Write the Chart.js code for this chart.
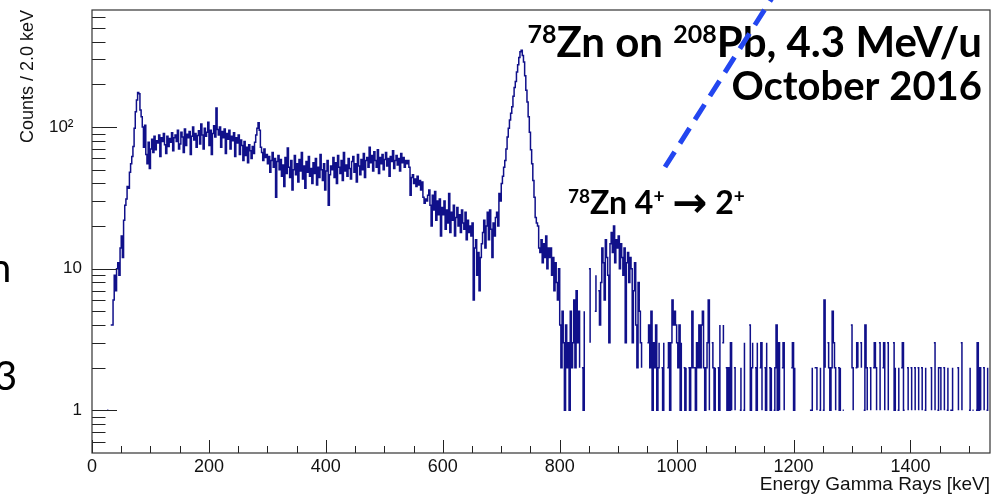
<!DOCTYPE html>
<html>
<head>
<meta charset="utf-8">
<title>78Zn on 208Pb - gamma spectrum</title>
<script src="https://cdn.jsdelivr.net/npm/chart.js@4.4.1/dist/chart.umd.min.js"></script>
<style>
    html, body { margin: 0; padding: 0; background: #fff; }
    #wrap { width: 1002px; height: 494px; }
</style>
</head>
<body>
<div id="wrap"><canvas id="spectrum" width="1002" height="494"></canvas></div>
<script>
// histogram binning (keV) and axis range
const binWidth = 2;
const energyMin = 0;
const energyMax = 1536;
const countsMin = 0.5;
const countsMax = 670;

// counts per 2 keV bin
const countsThreshold = [0, 0, 0, 0, 0, 0, 0, 0, 0, 0, 0, 0, 0, 1, 1, 0];
const countsRise = [4, 4, 6, 9, 7, 10, 11, 9, 14, 17, 12, 22, 28, 31, 38, 37, 48, 55, 62, 73,
    98, 128, 155, 175, 172, 132, 118, 100, 72, 103];
const countsLowContinuum = [64, 55, 78, 51, 70,
    82, 66, 86, 69, 80, 77, 88, 62, 84, 79, 90, 75, 65, 86, 73, 83, 78, 91, 68, 84,
    88, 79, 95, 70, 76, 92, 85, 66, 97, 74, 89, 84, 93, 64, 86, 100, 81, 90, 72, 87,
    94, 76, 105, 88, 70, 98, 86, 92, 108, 74, 95, 64, 90, 102, 85,
    136, 96,
    88, 100, 72, 93, 84, 97, 65, 90, 82, 95, 70, 86, 80, 91, 62, 84, 77, 88, 64, 81, 74, 58, 79,
    63, 72, 56, 75, 68, 60, 73, 65, 78, 88, 98,
    107, 95, 72, 66, 58, 70, 61, 64];
const countsMidContinuum = [55, 62, 48, 58, 66, 52, 60, 32, 57, 63, 50, 59, 45,
    54, 38, 61, 47, 71, 52, 44, 58, 36, 50, 63, 46, 55, 41, 59, 49, 66, 43, 53, 37,
    57, 48, 62, 45, 51, 40, 56, 47, 60, 39, 52, 44, 64, 50, 42, 55, 36, 49, 58, 28, 46, 53,
    50, 61, 44, 56, 40, 63, 52, 47, 58, 42, 66, 49, 54, 45, 60, 51, 43, 57, 62, 48,
    55, 41, 64, 53, 46, 59, 50, 65, 44, 58, 61, 52,
    72,
    56, 63, 49, 67, 58, 52, 69, 47, 61, 55, 64, 50, 59, 66, 53, 60, 45, 62, 57, 68,
    51, 58, 63, 54, 60, 49, 65, 56, 61, 52, 58, 55,
    58, 52, 33, 44,
    46, 40, 43, 38, 45, 39, 42, 36, 41,
    32, 29, 31, 30, 33,
    36, 28, 20, 33, 26, 35, 22, 30, 24, 31, 17, 27];
const countsValley = [24, 30, 19, 26, 21, 34, 18, 25, 22, 28, 17, 23, 27, 20, 24, 18, 26, 21, 19, 25,
    16, 22, 18, 20, 17, 21,
    6, 14, 16, 9, 13, 7, 12, 15,
    18, 22, 14, 20, 25, 16, 26, 19, 12, 21, 17, 23,
    25, 20, 34, 30];
const countsMainPeak = [40, 45, 52, 58, 70, 85, 98, 112, 125, 139, 165, 190, 210, 245, 275, 310, 340,
    348, 320, 288, 230, 182, 150, 118, 92, 69, 55, 42, 32, 23, 21, 20, 14];
const countsShoulder = [13, 16, 11, 15, 12, 17, 10, 14, 12,
    14, 9, 12, 7, 11, 8, 6, 10,
    4, 2, 5, 3, 1, 4, 2, 3, 1, 5, 2, 3,
    6, 2, 7, 3, 5, 2];
const countsGap = [0, 2, 1, 5, 0, 7, 0, 10, 3, 0, 8, 0, 5, 9, 0, 7, 4];
const countsSecondPeak = [8, 14, 11, 6, 16, 12, 9, 3, 15, 18, 13, 20, 11, 16, 14, 17, 10, 15, 12, 9,
    14, 3, 11, 13, 8, 12,
    10, 3, 7, 11, 4, 2, 8, 5, 3, 2];
const countsAfterPeak = [0, 0, 1, 0, 3, 4, 2, 5, 1, 3, 2, 4, 1, 2, 3, 0, 2, 1, 3, 0, 0, 2, 3, 1];
const countsTail = [
    3, 6, 4, 5, 4, 3, 2, 4, 1, 3,
    0, 2, 1, 2, 0, 2, 1, 2, 5, 2,
    2, 1, 3, 2, 4, 2, 4, 5, 2, 1,
    2, 3, 6, 1, 0, 3, 2, 1, 2, 0,
    2, 1, 4, 0, 3, 4, 0, 2, 1, 2,
    1, 3, 1, 0, 2, 1, 0, 2, 0, 1,
    2, 0, 1, 3, 0, 1, 0, 4, 1, 2,
    3, 0, 2, 1, 3, 0, 2, 3, 1, 0,
    2, 1, 3, 0, 2, 1, 2, 0, 1, 2,
    4, 1, 3, 1, 0, 2, 3, 1, 0, 2,
    0, 1, 0, 2, 3, 1, 2, 0, 1, 0,
    0, 1, 0, 0, 1, 0, 0, 1, 0, 1,
    1, 2, 0, 2, 2, 1, 0, 1, 2, 0,
    1, 6, 2, 0, 3, 2, 1, 2, 5, 3,
    2, 1, 0, 2, 1, 2, 0, 1, 1, 0,
    1, 0, 2, 0, 4, 2, 1, 0, 2, 3,
    2, 0, 3, 2, 0, 1, 4, 2, 1, 0,
    2, 1, 0, 2, 3, 2, 1, 0, 3, 1,
    0, 2, 3, 1, 0, 3, 1, 0, 2, 0,
    3, 1, 2, 0, 1, 2, 0, 2, 3, 1,
    1, 0, 2, 1, 0, 2, 1, 0, 2, 1,
    0, 2, 1, 0, 2, 1, 0, 1, 2, 0,
    1, 0, 2, 1, 0, 3, 1, 0, 1, 2,
    2, 1, 0, 2, 1, 0, 1, 2, 0, 1,
    1, 2, 0, 1, 0, 2, 1, 0, 3, 1,
    0, 1, 0, 1, 0, 1, 2, 0, 1, 1,
    0, 1, 3, 1, 2, 1, 0, 2, 1, 0,
    1, 2, 0];

// axis ticks and labels
const xTickValues = [0, 200, 400, 600, 800, 1000, 1200, 1400];
const xTickLabels = ['0', '200', '400', '600', '800', '1000', '1200', '1400'];
const xMinorTicks = [50, 100, 150, 250, 300, 350, 450, 500, 550, 650, 700, 750, 850, 900, 950,
    1050, 1100, 1150, 1250, 1300, 1350, 1450, 1500];
const yTickValues = [1, 10, 100];
const yTickLabels = ['1', '10', '10\u00b2\u2002'];
const yMinorTicks = [0.6, 0.7, 0.8, 0.9, 2, 3, 4, 5, 6, 7, 8, 9, 20, 30, 40, 50, 60, 70, 80, 90,
    200, 300, 400, 500, 600];

// annotation texts (sup = superscript, arrow = drawn with a heavier arrow glyph)
const titleLine1 = [{ text: '78', sup: true }, { text: 'Zn on ' }, { text: '208', sup: true }, { text: 'Pb, 4.3 MeV/u' }];
const titleLine2 = [{ text: 'October 2016' }];
const peakLabel = [{ text: '78', sup: true }, { text: 'Zn 4' }, { text: '+', sup: true }, { text: ' ' },
    { text: '\u2192', arrow: true }, { text: ' 2' }, { text: '+', sup: true }];

const counts = [].concat(countsThreshold, countsRise, countsLowContinuum, countsMidContinuum,
    countsValley, countsMainPeak, countsShoulder, countsGap, countsSecondPeak,
    countsAfterPeak, countsTail);

// one point per bin low edge, plus the closing edge so the last bin is drawn
const histPoints = counts.map((c, i) => ({ x: energyMin + i * binWidth, y: c }));
histPoints.push({ x: energyMin + counts.length * binWidth, y: counts[counts.length - 1] });

const labelFont = 'Lato, "DejaVu Sans", sans-serif';

function partFont(p, size) {
    if (p.sup) return `bold ${Math.round(size * 0.6)}px ${labelFont}`;
    if (p.arrow) return `bold ${Math.round(size * 1.3)}px "DejaVu Sans", sans-serif`;
    return `bold ${size}px ${labelFont}`;
}

function drawRich(ctx, parts, x, baseline, size, align) {
    const widths = parts.map(p => {
        ctx.font = partFont(p, size);
        return ctx.measureText(p.text).width;
    });
    const total = widths.reduce((a, b) => a + b, 0);
    let cx = align === 'right' ? x - total : x;
    ctx.textAlign = 'left';
    ctx.textBaseline = 'alphabetic';
    parts.forEach((p, i) => {
        ctx.font = partFont(p, size);
        let by = baseline;
        if (p.sup) by = baseline - size * 0.34;
        if (p.arrow) by = baseline + size * 0.1;
        ctx.fillText(p.text, cx, by);
        cx += widths[i];
    });
}

// ROOT style frame and inward ticks, then the slide annotations
const rootFrame = {
    id: 'rootFrame',
    afterDatasetsDraw(chart) {
        const { ctx, chartArea: area, scales: { x, y } } = chart;
        ctx.save();
        ctx.strokeStyle = '#222';
        ctx.lineWidth = 1;
        ctx.beginPath();
        yTickValues.forEach(v => {
            const py = Math.round(y.getPixelForValue(v)) + 0.5;
            ctx.moveTo(area.left, py);
            ctx.lineTo(area.left + 25, py);
        });
        yMinorTicks.forEach(v => {
            const py = Math.round(y.getPixelForValue(v)) + 0.5;
            ctx.moveTo(area.left, py);
            ctx.lineTo(area.left + 13.5, py);
        });
        xTickValues.forEach(v => {
            const px = Math.round(x.getPixelForValue(v)) + 0.5;
            ctx.moveTo(px, area.bottom);
            ctx.lineTo(px, area.bottom - 13);
        });
        xMinorTicks.forEach(v => {
            const px = Math.round(x.getPixelForValue(v)) + 0.5;
            ctx.moveTo(px, area.bottom);
            ctx.lineTo(px, area.bottom - 7);
        });
        ctx.stroke();
        ctx.lineWidth = 1.2;
        ctx.strokeStyle = '#333';
        ctx.strokeRect(area.left, area.top, area.right - area.left, area.bottom - area.top);
        ctx.restore();
    },
    afterDraw(chart) {
        const ctx = chart.ctx;
        ctx.save();
        ctx.fillStyle = '#000';
        drawRich(ctx, titleLine1, 982, 57, 42, 'right');
        drawRich(ctx, titleLine2, 982, 100, 40, 'right');
        drawRich(ctx, peakLabel, 568, 214, 32, 'left');

        // leftovers of the slide text next to the plot
        ctx.font = `40px ${labelFont}`;
        ctx.fillText('n', -11, 282);
        ctx.fillText('3', -6, 390);

        // dashed pointer towards the 4+ -> 2+ line
        ctx.strokeStyle = '#2346f0';
        ctx.lineWidth = 5;
        ctx.setLineDash([18, 10]);
        ctx.beginPath();
        ctx.moveTo(665, 167);
        ctx.lineTo(777, -10);
        ctx.stroke();
        ctx.restore();
    }
};

const axisFont = { family: '"Liberation Sans", Arial, sans-serif', size: 17 };

new Chart(document.getElementById('spectrum'), {
    type: 'line',
    data: {
        datasets: [{
            data: histPoints,
            stepped: true,
            borderColor: '#10108a',
            borderWidth: 1.5,
            pointRadius: 0,
            fill: false,
            tension: 0
        }]
    },
    options: {
        responsive: false,
        animation: false,
        events: [],
        layout: { padding: { top: 10, right: 12, left: 0, bottom: 0 } },
        plugins: {
            legend: { display: false },
            tooltip: { enabled: false }
        },
        scales: {
            x: {
                type: 'linear',
                min: energyMin,
                max: energyMax,
                grid: { display: false, drawTicks: false },
                border: { display: false },
                afterBuildTicks: scale => { scale.ticks = xTickValues.map(v => ({ value: v })); },
                afterFit: scale => {
                    scale.height = 41;
                    scale.paddingLeft = 0;
                    scale.paddingRight = 0;
                },
                ticks: {
                    autoSkip: false,
                    maxRotation: 0,
                    padding: 3,
                    color: '#111',
                    font: { family: axisFont.family, size: 18 },
                    callback: v => xTickLabels[xTickValues.indexOf(v)]
                },
                title: {
                    display: true,
                    text: 'Energy Gamma Rays [keV]',
                    align: 'end',
                    color: '#111',
                    font: { family: axisFont.family, size: 19 },
                    padding: { top: 0, bottom: -2 }
                }
            },
            y: {
                type: 'logarithmic',
                min: countsMin,
                max: countsMax,
                grid: { display: false, drawTicks: false },
                border: { display: false },
                afterBuildTicks: scale => { scale.ticks = yTickValues.map(v => ({ value: v })); },
                afterFit: scale => {
                    scale.width = 92;
                    scale.paddingTop = 0;
                    scale.paddingBottom = 0;
                },
                ticks: {
                    autoSkip: false,
                    padding: 10,
                    color: '#111',
                    font: axisFont,
                    callback: v => yTickLabels[yTickValues.indexOf(v)]
                },
                title: {
                    display: true,
                    text: 'Counts / 2.0 keV',
                    align: 'end',
                    color: '#111',
                    font: { family: axisFont.family, size: 18 },
                    padding: { top: 17, bottom: 0 }
                }
            }
        }
    },
    plugins: [rootFrame]
});
</script>
</body>
</html>
